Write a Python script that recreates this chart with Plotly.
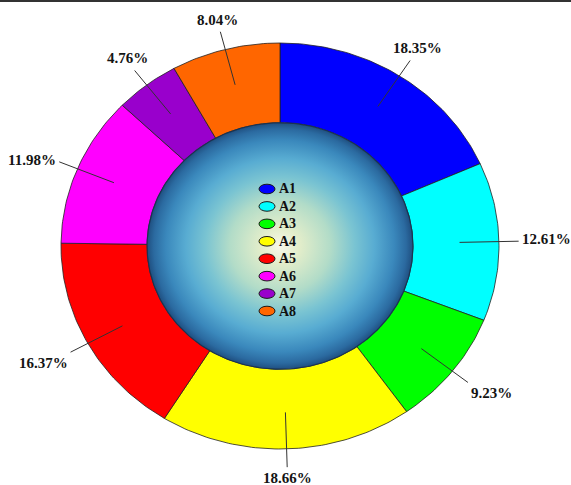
import numpy as np
import plotly.graph_objects as go

categories = ["A1", "A2", "A3", "A4", "A5", "A6", "A7", "A8"]
values = [18.35, 12.61, 9.23, 18.66, 16.37, 11.98, 4.76, 8.04]
colors = ["#0000FF", "#00FFFF", "#00FF00", "#FFFF00", "#FF0000", "#FF00FF", "#9900CC", "#FF6600"]
label_texts = [f"{v:.2f}%" for v in values]

W, H = 571, 485
CX, CY = 280, 246      # pixel centre of the ring
RX, RY = 219, 203      # pixel radii (slightly elliptical, as in the reference)
HOLE = 0.607
R_LINE0, R_LINE1 = 0.82, 1.09
SERIF = "Liberation Serif, Times New Roman, serif"

fig = go.Figure()

total = float(sum(values))
bounds = np.concatenate([[0.0], np.cumsum(values)]) / total * 2 * np.pi

# ring wedges
for i, cat in enumerate(categories):
    n = max(int((bounds[i + 1] - bounds[i]) / (2 * np.pi) * 360), 3)
    t = np.linspace(bounds[i], bounds[i + 1], n)
    xo, yo = np.sin(t), np.cos(t)
    xs = np.concatenate([xo, HOLE * xo[::-1], [xo[0]]])
    ys = np.concatenate([yo, HOLE * yo[::-1], [yo[0]]])
    fig.add_trace(go.Scatter(
        x=xs, y=ys, mode="lines", fill="toself", fillcolor=colors[i],
        line=dict(color="#222222", width=0.8), name=cat,
        hoverinfo="text", text=f"{cat}: {label_texts[i]}", showlegend=False))

# inner gradient disc
t = np.linspace(0, 2 * np.pi, 361)
fig.add_trace(go.Scatter(
    x=HOLE * np.sin(t), y=HOLE * np.cos(t), mode="lines", fill="toself",
    fillgradient=dict(type="radial", colorscale=[
        [0.0, "#f7f8ea"], [0.15, "#e2edca"], [0.38, "#b2dcc8"],
        [0.56, "#7ac4d2"], [0.71, "#58acd2"], [0.86, "#3a88bc"],
        [0.95, "#2b6aa0"], [1.0, "#1f4f80"]]),
    line=dict(color="#1b3350", width=1.2), hoverinfo="skip", showlegend=False))

# leader lines and labels
lx, ly = [], []
annotations = []
for i, v in enumerate(values):
    mid = (bounds[i] + bounds[i + 1]) / 2
    s, c = np.sin(mid), np.cos(mid)
    lx += [R_LINE0 * s, R_LINE1 * s, None]
    ly += [R_LINE0 * c, R_LINE1 * c, None]
    xa = "left" if s > 0.7 else ("right" if s < -0.7 else "center")
    ya = "bottom" if c > 0.4 else ("top" if c < -0.4 else "middle")
    xs_ = {"left": 1, "right": -1, "center": round(12 * s)}[xa]
    ys_ = {"bottom": 2, "top": -1, "middle": 2}[ya]
    annotations.append(dict(
        x=R_LINE1 * s, y=R_LINE1 * c, xref="x", yref="y", text=label_texts[i],
        showarrow=False, xanchor=xa, yanchor=ya, xshift=xs_, yshift=ys_,
        font=dict(family=SERIF, size=15, color="#141414", weight="bold")))
fig.add_trace(go.Scatter(x=lx, y=ly, mode="lines", line=dict(color="#333333", width=1),
                         hoverinfo="skip", showlegend=False))

# legend in the centre (ellipse swatches + labels)
shapes = []
LEG_X, LEG_Y0, LEG_DY = 267, 189, 17.43
for i, cat in enumerate(categories):
    py = LEG_Y0 + LEG_DY * i
    shapes.append(dict(
        type="circle", xref="paper", yref="paper",
        xsizemode="pixel", ysizemode="pixel",
        xanchor=LEG_X / W, yanchor=1 - py / H,
        x0=-8, x1=8, y0=-4.8, y1=4.8,
        fillcolor=colors[i], line=dict(color="#1a1a1a", width=1)))
    annotations.append(dict(
        x=(LEG_X + 10) / W, y=1 - py / H, xref="paper", yref="paper", text=cat,
        showarrow=False, xanchor="left", yanchor="middle",
        font=dict(family=SERIF, size=14, color="#111111", weight="bold")))

# thin frame line at the very top
shapes.append(dict(type="line", xref="paper", yref="paper", x0=0, x1=1,
                   y0=1 - 1 / H, y1=1 - 1 / H, line=dict(color="#333333", width=2)))

fig.update_layout(
    width=W, height=H, margin=dict(l=0, r=0, t=0, b=0),
    paper_bgcolor="white", plot_bgcolor="white", showlegend=False,
    xaxis=dict(range=[-CX / RX, (W - CX) / RX], visible=False, fixedrange=True),
    yaxis=dict(range=[-(H - CY) / RY, CY / RY], visible=False, fixedrange=True),
    annotations=annotations, shapes=shapes)

fig.write_html("out.html")
